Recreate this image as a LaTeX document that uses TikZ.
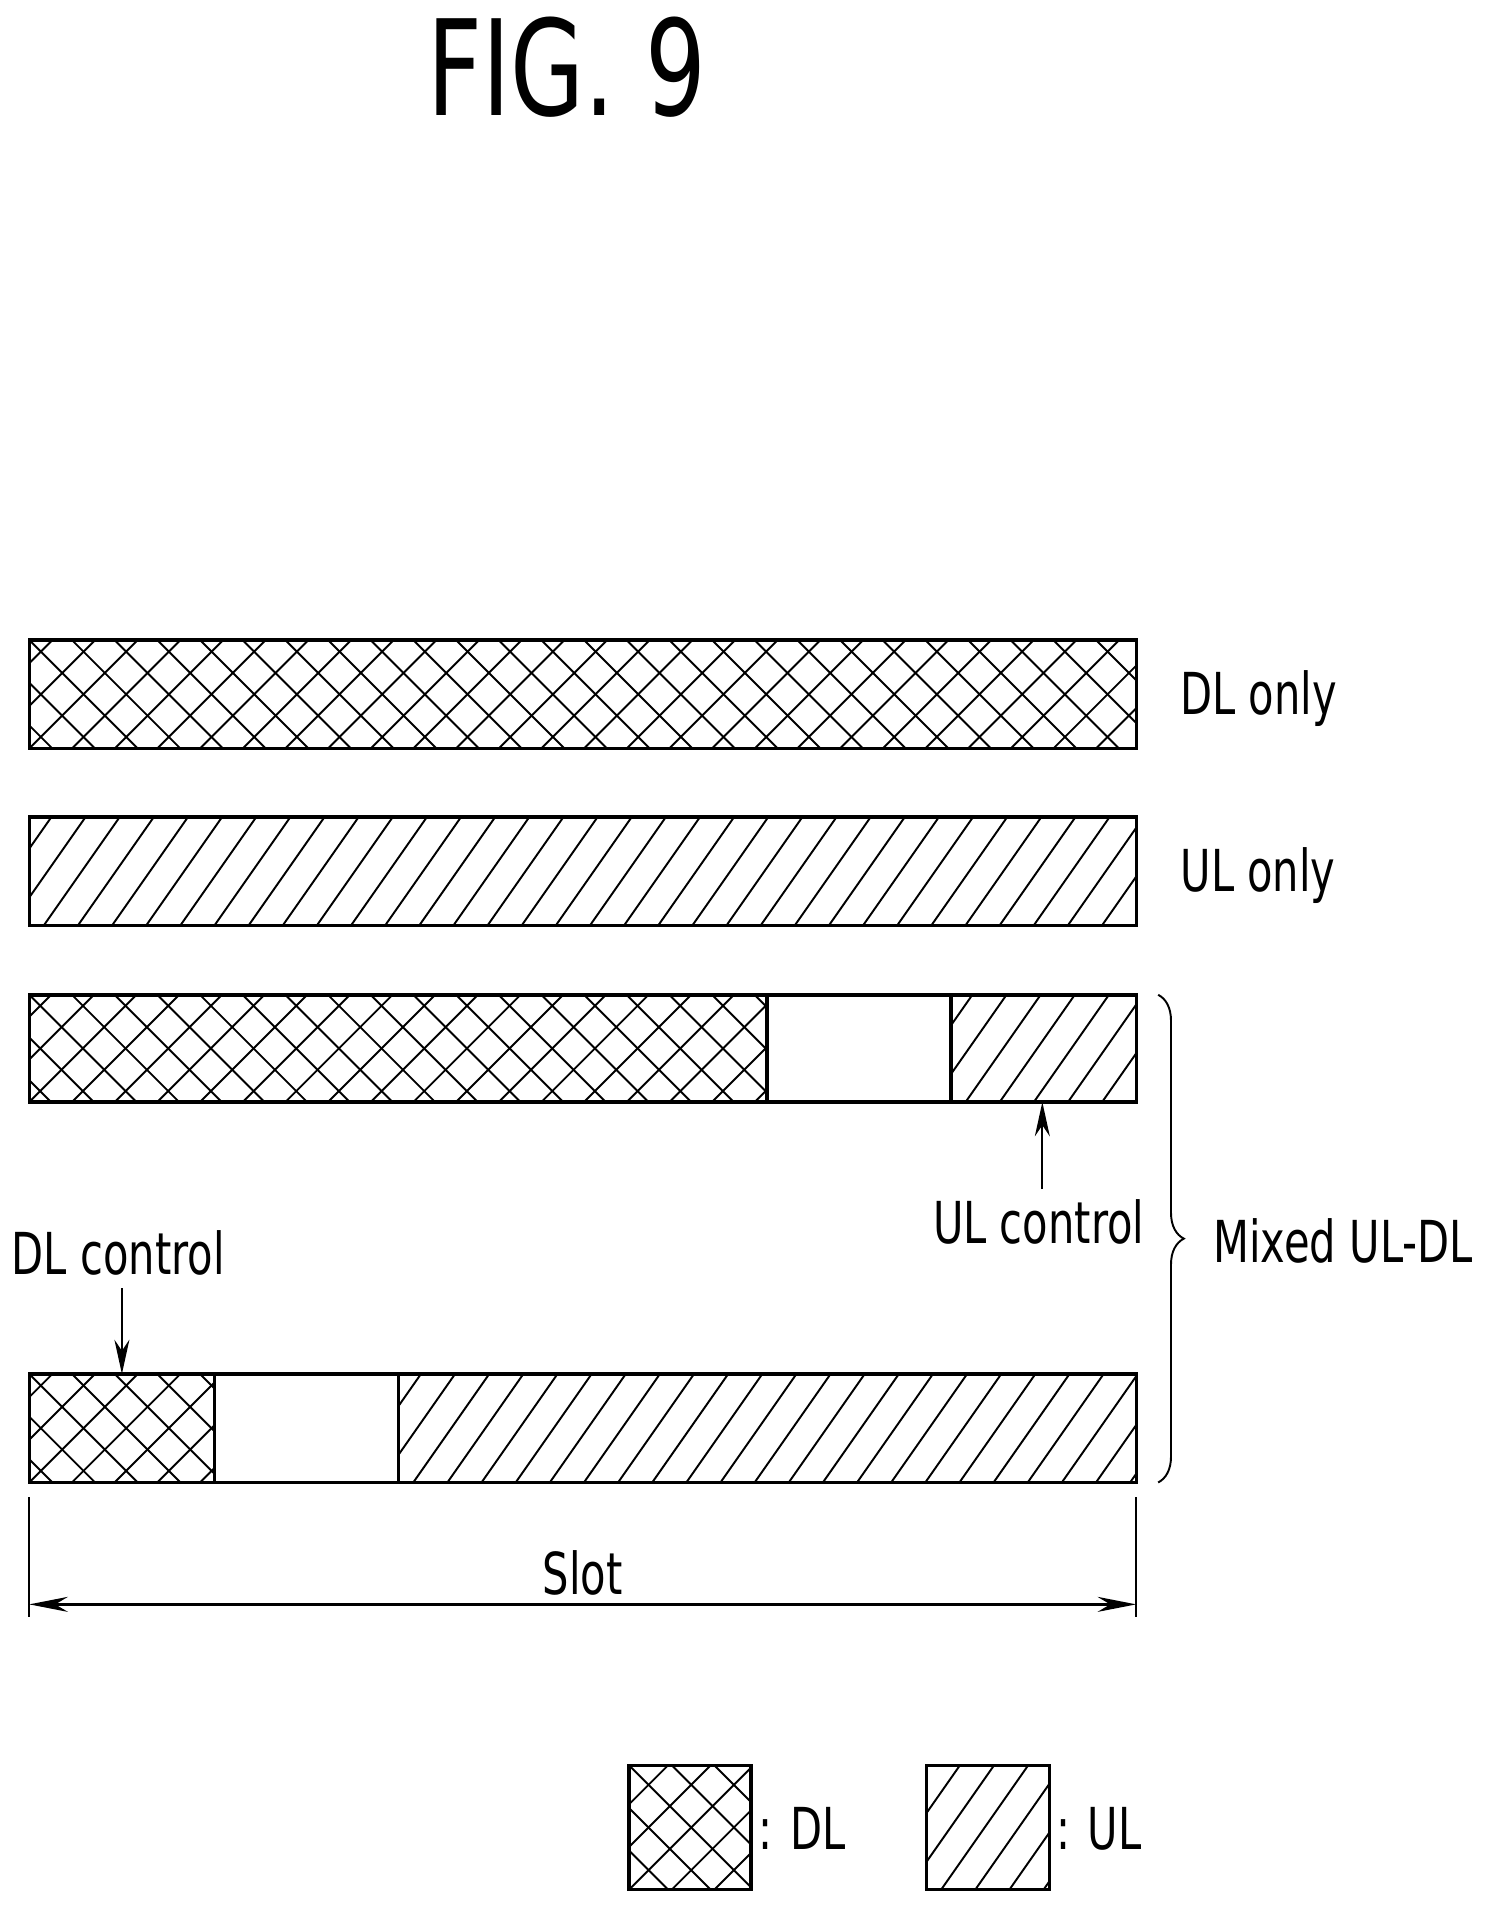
\documentclass[tikz,border=0pt]{standalone}
\usepackage{fontspec}
\setmainfont[FakeStretch=0.72]{DejaVu Sans}
\usetikzlibrary{arrows.meta, decorations.pathreplacing}
\tikzset{
  lbl/.style={font=\fontsize{27}{32}\selectfont, inner sep=0pt},
  frame/.style={line width=1.6pt},
  pat/.style={line width=0.9pt},
}
% crosshatch (DL) in a box
\newcommand{\dlfill}[4]{%
  \begin{scope}
    \clip (#1,#2) rectangle (#3,#4);
    \foreach \s in {-140,-105,...,1000}
      {\draw[pat] (#1+\s,#4) -- ++(140,-140); \draw[pat] (#1+\s,#2) -- ++(140,140);}
  \end{scope}
  \draw[frame] (#1,#2) rectangle (#3,#4);}
% hatch (UL) in a box
\newcommand{\ulfill}[4]{%
  \begin{scope}
    \clip (#1,#2) rectangle (#3,#4);
    \foreach \s in {-100,-72,...,1000}
      \draw[pat] (#1+\s,#4) -- ++(84,-120);
  \end{scope}
  \draw[frame] (#1,#2) rectangle (#3,#4);}
\begin{document}
\begin{tikzpicture}[x=0.02cm, y=-0.02cm]
  \useasboundingbox (0,0) rectangle (1220,1570);
  \node[font=\fontsize{62}{70}\selectfont] (title) at (465,55) {FIG. 9};

  % DL only
  \dlfill{24}{525}{932}{614}
  \node[lbl, anchor=west] (dlonly) at (968,573) {DL only};
  % UL only
  \ulfill{24}{670}{932}{759}
  \node[lbl, anchor=west] (ulonly) at (968,718) {UL only};
  % mixed, DL heavy
  \dlfill{24}{816}{629}{904}
  \draw[frame] (629,816) rectangle (780,904);
  \ulfill{780}{816}{932}{904}
  \coordinate (ulc) at (855,904);
  \node[lbl] (ulctrl) at (852,1002) {UL control};
  \draw[line width=0.9pt, -{Stealth[length=16pt,width=7pt]}] (ulctrl.north -| ulc) ++(0,-8) -- (ulc);
  % mixed, UL heavy
  \dlfill{24}{1127}{176}{1216}
  \draw[frame] (176,1127) rectangle (327,1216);
  \ulfill{327}{1127}{932}{1216}
  \coordinate (dlc) at (100,1127);
  \node[lbl] (dlctrl) at (97,1028) {DL control};
  \draw[line width=0.9pt, -{Stealth[length=16pt,width=7pt]}] (dlctrl.south -| dlc) ++(0,10) -- (dlc);

  % brace
  \draw[line width=0.9pt, decorate, decoration={brace, amplitude=12pt}] (950,816) -- (950,1216);
  \node[lbl, anchor=west] (mixed) at (995,1018) {Mixed UL-DL};

  % slot
  \coordinate (sl) at (24,1316);
  \coordinate (sr) at (932,1316);
  \draw[line width=0.9pt] (24,1228) -- (24,1326) (932,1228) -- (932,1326);
  \draw[line width=1.4pt, {Stealth[length=18pt,width=7pt]}-{Stealth[length=18pt,width=7pt]}] (sl) -- (sr);
  \node[lbl] (slot) at (478,1290) {Slot};

  % legend
  \dlfill{516}{1448}{616}{1550}
  \node[lbl, anchor=west] (legdl) at (622,1500) {: DL};
  \ulfill{760}{1448}{861}{1550}
  \node[lbl, anchor=west] (legul) at (866,1500) {: UL};
\end{tikzpicture}
\end{document}
